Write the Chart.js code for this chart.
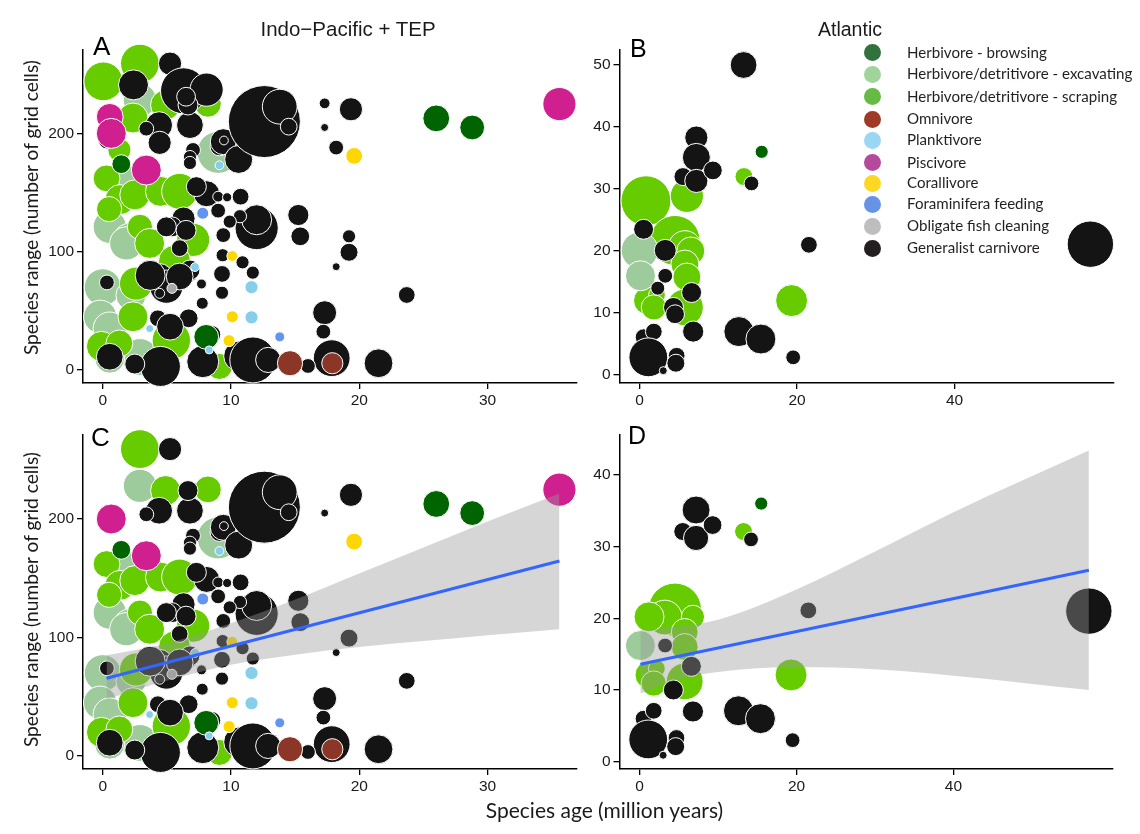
<!DOCTYPE html>
<html><head><meta charset="utf-8">
<script src="https://cdn.jsdelivr.net/npm/chart.js@4.4.1/dist/chart.umd.min.js"></script>
<style>
html,body{margin:0;padding:0;background:#fff;}
#wrap{position:relative;width:1140px;height:834px;overflow:hidden;background:#fff;}
canvas{position:absolute;left:0;top:0;}
.t{position:absolute;white-space:nowrap;color:#1a1a1a;line-height:1;}
.dot{position:absolute;width:17px;height:17px;border-radius:50%;}
</style></head><body><div id="wrap">
<canvas id="cA" width="1140" height="834"></canvas>
<canvas id="cB" width="1140" height="834"></canvas>
<canvas id="cC" width="1140" height="834"></canvas>
<canvas id="cD" width="1140" height="834"></canvas>
</div>
<script>
// ---------------- data: [species age (Myr), species range (grid cells), size] ----------------
// Panel A (Indo-Pacific + TEP)
const aExc = [[2.9,228,8.3],[9.0,184,10.5],[1.7,158,9],[0.55,121,8.3],[2.1,110,8.3],[1.84,107,8.3],[0.0,70,9.2],[2.2,63,7.5],[-0.2,45,8.3],[0.55,35,8.3],[2.9,11,9.2],[0.55,10,7.5]];
const aScr = [[0.05,244,9.7],[2.9,259,9.7],[2.36,213,7.5],[4.9,224,7.5],[8.2,225,6.7],[1.3,186,5.8],[0.3,162,6.7],[1.35,144,7.5],[2.5,148,7.5],[4.5,151,7.5],[6.0,151,9],[0.5,136,6.3],[2.9,121,6.3],[3.66,107,7.5],[7.05,110,8.3],[5.6,92,8],[2.6,73,8.3],[2.36,45,7.5],[-0.1,20,7.5],[1.3,22.5,6.7],[4.83,11,6.3],[5.35,25,9.6],[9.1,3,6.5]];
const aGen = [[2.4,241,7.5],[5.25,259,5.8],[6.3,236,11.5],[8.1,237,8.3],[0.33,194,4.2],[4.4,207,6.7],[3.4,204,3.7],[6.8,207,6.7],[6.65,224,5],[6.5,231,4.7],[4.44,192,5.8],[7.04,186,3.7],[6.8,180,3.3],[6.8,175,3.3],[10.4,182,5],[9.1,189,4.7],[9.4,193,6.5],[9.45,194,2.2],[10.6,178,7],[12.6,210,18],[13.8,222.6,8.7],[14.5,205.7,4.2],[17.3,225.4,2.7],[19.35,220.4,5.8],[17.3,205,2],[18.2,188,3.7],[8.1,149,6.5],[9.0,146.5,2.7],[9.7,146,2.3],[10.75,146.5,4.2],[9.0,134.7,3.7],[7.3,155,5],[12.0,120,10.8],[12.0,127,7.5],[10.7,130,3.3],[15.25,131,5.3],[15.4,113,4.7],[19.2,113,3.3],[19.2,99.5,4.5],[18.2,87.3,2],[23.7,63.4,4.2],[9.9,125.4,3.3],[9.4,114,3.7],[9.35,97,3.3],[10.9,91,3.3],[11.7,82.3,3.3],[9.3,81.2,4.2],[9.3,65.3,3.3],[7.76,56.4,3],[7.76,72.4,2.3],[17.3,48.4,6],[17.2,32.4,3.7],[17.85,10,9.2],[16.0,3.4,3.7],[21.5,5.7,7.2],[7.8,7,8],[10.6,11.8,7.5],[11.7,8.5,11.5],[12.9,8.5,6.3],[4.5,3,10],[6.7,43.7,4.7],[6.7,82.2,4.7],[6.3,128,5.8],[5.4,121,5],[6.0,103,4.2],[4.96,121,5],[6.5,118,5],[6.8,84.5,5],[4.44,79,6.5],[0.33,74,3.7],[4.96,70.4,8.3],[4.44,64.8,2.5],[6.0,79,6.7],[7.7,72.7,2.5],[4.3,43.7,4.2],[0.55,11.2,6.7],[3.7,80,7.5],[5.25,36.6,6.7],[8.5,30,4.5],[2.5,5,5]];
const aBrw = [[26.0,212.7,6.7],[28.8,205,6.2],[8.07,28,6.2],[1.45,174,4.7]];
const aOmn = [[14.6,5.7,6.3],[17.9,5.7,5.3]];
const aPlk = [[9.1,173,2.2],[11.6,70,3.3],[11.6,44.5,3.3],[7.2,87,2.2],[3.66,35,2],[8.3,17,2]];
const aPsc = [[0.55,214,6.7],[0.67,200,7.5],[3.4,169,7.5],[35.6,224.8,8.3]];
const aCor = [[19.6,181,4.2],[10.1,96.4,2.7],[10.1,45,3],[9.85,24.8,3]];
const aFrm = [[7.8,132.5,3],[13.8,28,2.5]];
const aCln = [[5.4,69,2.5]];

// Panel C (Indo-Pacific + TEP, with linear fit)
const cExc = [[2.9,228,8.3],[9.0,184,10.5],[1.7,158,9],[0.55,121,8.3],[2.1,110,8.3],[1.84,107,8.3],[0.0,70,9.2],[2.2,63,7.5],[-0.2,45,8.3],[0.55,35,8.3],[2.9,11,9.2],[0.55,10,7.5]];
const cScr = [[2.9,259,9.7],[4.9,224,7.5],[8.2,225,6.7],[0.3,162,6.7],[1.35,144,7.5],[2.5,148,7.5],[4.5,151,7.5],[6.0,151,9],[0.5,136,6.3],[2.9,121,6.3],[3.66,107,7.5],[7.05,110,8.3],[5.6,92,8],[2.6,73,8.3],[2.36,45,7.5],[-0.1,20,7.5],[1.3,22.5,6.7],[4.83,11,6.3],[5.35,25,9.6],[9.1,3,6.5]];
const cGen = [[5.25,259,5.8],[4.4,207,6.7],[3.4,204,3.7],[6.8,207,6.7],[6.65,224,5],[7.04,186,3.7],[6.8,180,3.3],[6.8,175,3.3],[10.4,182,5],[9.1,189,4.7],[9.4,193,6.5],[9.45,194,2.2],[10.6,178,7],[12.6,210,18],[13.8,222.6,8.7],[14.5,205.7,4.2],[17.3,205,2],[19.35,220.4,5.8],[8.1,149,6.5],[9.0,146.5,2.7],[9.7,146,2.3],[10.75,146.5,4.2],[9.0,134.7,3.7],[7.3,155,5],[12.0,120,10.8],[12.0,127,7.5],[10.7,130,3.3],[15.25,131,5.3],[15.4,113,4.7],[19.2,99.5,4.5],[18.2,87.3,2],[23.7,63.4,4.2],[9.9,125.4,3.3],[9.4,114,3.7],[9.35,97,3.3],[10.9,91,3.3],[11.7,82.3,3.3],[9.3,81.2,4.2],[9.3,65.3,3.3],[7.76,56.4,3],[7.76,72.4,2.3],[17.3,48.4,6],[17.2,32.4,3.7],[17.85,10,9.2],[16.0,3.4,3.7],[21.5,5.7,7.2],[7.8,7,8],[10.6,11.8,7.5],[11.7,8.5,11.5],[12.9,8.5,6.3],[4.5,3,10],[6.7,43.7,4.7],[6.7,82.2,4.7],[6.3,128,5.8],[5.4,121,5],[6.0,103,4.2],[4.96,121,5],[6.5,118,5],[6.8,84.5,5],[4.44,79,6.5],[0.33,74,3.7],[4.96,70.4,8.3],[4.44,64.8,2.5],[6.0,79,6.7],[7.7,72.7,2.5],[4.3,43.7,4.2],[0.55,11.2,6.7],[3.7,80,7.5],[5.25,36.6,6.7],[8.5,30,4.5],[2.5,5,5]];
const cBrw = [[26.0,212.7,6.7],[28.8,205,6.2],[8.07,28,6.2],[1.45,174,4.7]];
const cOmn = [[14.6,5.7,6.3],[17.9,5.7,5.3]];
const cPlk = [[9.1,173,2.2],[11.6,70,3.3],[11.6,44.5,3.3],[7.2,87,2.2],[3.66,35,2],[8.3,17,2]];
const cPsc = [[0.67,200,7.5],[3.4,169,7.5],[35.6,224.8,8.3]];
const cCor = [[19.6,181,4.2],[10.1,96.4,2.7],[10.1,45,3],[9.85,24.8,3]];
const cFrm = [[7.8,132.5,3],[13.8,28,2.5]];
const cCln = [[5.4,69,2.5]];
const cFitX = [0.3, 35.6];
const cFitY = [65.6, 164.6];
const cBandX  = [0.3, 5, 10, 15, 20, 25, 30, 35.6];
const cBandHi = [85, 95, 112, 132, 154, 176, 198, 221.6];
const cBandLo = [48, 63.5, 77, 85.5, 92, 97, 102, 107];

// Panel B (Atlantic)
const bExc = [[0,20.1,9.2],[0.1,16,7.5]];
const bScr = [[0.8,28.1,12.5],[6.0,28.9,8.3],[4.5,21.7,12.5],[5.75,20.6,8.3],[6.5,20,7],[5.75,17.9,7],[6.0,15.8,7],[1.0,12,7],[2.2,12.9,4.2],[1.8,10.9,6.3],[5.75,10.9,9.2],[19.3,12,8],[13.25,32,4.5]];
const bGen = [[7.2,38.3,5.8],[7.2,35.1,7],[5.5,32,4.5],[7.2,31.3,5.8],[9.3,33,4.7],[14.2,30.9,3.7],[0.5,23.5,5],[3.25,20.1,5.5],[3.25,16,3.7],[2.3,14,3.5],[6.6,13.3,5],[4.3,10.9,5],[4.5,9.8,4.7],[0.5,6.1,4.2],[1.8,7.0,4.2],[6.8,7.0,5.3],[12.6,7.0,7.5],[15.4,5.8,7.5],[19.5,2.85,3.7],[1.1,2.85,9.7],[4.7,3.1,4.2],[4.6,1.9,4.5],[3.0,0.7,2],[13.2,50,6.7],[21.5,21,4.2],[57.25,21.1,11.6]];
const bBrw = [[15.5,36,3.3]];

// Panel D (Atlantic, with linear fit)
const dExc = [[0.1,16.2,7.5]];
const dScr = [[4.5,21.2,13.3],[3.2,20.1,8.7],[1.2,20.2,7.5],[6.8,20.2,5.8],[5.75,18.1,6.7],[5.75,16,6.7],[1.2,12.1,7],[2.2,13,4.2],[1.8,10.9,6.3],[5.75,11.2,9.2],[19.3,12.1,8],[13.25,32.1,4.5]];
const dGen = [[7.2,35.1,7],[5.5,32.1,4.5],[7.2,31.2,6.3],[9.3,33,4.7],[14.2,31,3.7],[3.25,16.2,3.7],[6.6,13.3,5],[4.3,10,5],[0.5,6.0,4.2],[1.8,7.1,4.2],[6.8,7.0,5.3],[12.6,7.1,7.5],[15.4,6.0,7.5],[19.5,3.0,3.7],[1.1,3.1,9.7],[4.7,3.3,4.2],[4.6,2.1,4.5],[3.0,0.9,2],[21.5,21.1,4.2],[57.25,21.0,11.6]];
const dBrw = [[15.5,36,3.3]];
const dFitX = [0.1, 57.25];
const dFitY = [13.6, 26.7];
const dBandX  = [0.1, 5, 10, 20, 30, 40, 57.25];
const dBandHi = [18.3, 18.9, 19.8, 24.0, 29.3, 34.8, 43.4];
const dBandLo = [9.5, 11.5, 12.5, 13.2, 12.9, 12.0, 10];

// tick labels
const ipXTicks = [0, 10, 20, 30];
const ipYTicks = [0, 100, 200];
const atXTicks = [0, 20, 40];
const atBYTicks = [0, 10, 20, 30, 40, 50];
const atDYTicks = [0, 10, 20, 30, 40];

// legend
const legendKeys = ['brw','exc','scr','omn','plk','psc','cor','frm','cln','gen'];
const legendLabels = ['Herbivore - browsing','Herbivore/detritivore - excavating','Herbivore/detritivore - scraping','Omnivore','Planktivore','Piscivore','Corallivore','Foraminifera feeding','Obligate fish cleaning','Generalist carnivore'];
const panelTitles = ['Indo\u2212Pacific + TEP', 'Atlantic'];
const panelLetters = ['A','B','C','D'];
const yTitle = 'Species range (number of grid cells)';
const xTitle = 'Species age (million years)';

// ---------------- styles ----------------
const PLOT_COL = {brw:'#006400', exc:'#9DCB9B', scr:'#66CC00', omn:'#8B3627', plk:'#87CEEB', psc:'#D0208F', cor:'#FFD700', frm:'#6495ED', cln:'#A9A9A9', gen:'#141414'};
const LEG_COL = {brw:'#31713b', exc:'#a1d49b', scr:'#66bb44', omn:'#9e3a26', plk:'#9ad7f4', psc:'#b54a9c', cor:'#fdd723', frm:'#6594e6', cln:'#bebebe', gen:'#231f20'};
const SIZE_PX = 2;
const STACK = ['exc','scr','gen','brw','omn','plk','psc','cor','frm','cln'];
const STACK_ATL = ['scr','exc','gen','brw','omn','plk','psc','cor','frm','cln'];
const TICK_FONT = {family:'"Liberation Sans", Arial, sans-serif', size:15.5};

function makePanel(canvasId, groups, stack, xr, yr, xTicks, yTicks, area, fit) {
  const ds = [];
  if (fit) {
    ds.push({type:'line', data: fit.x.map((x,i)=>({x, y: fit.y[i]})), borderColor:'#3366FF', borderWidth:3, pointRadius:0, fill:false, order:0});
    ds.push({type:'line', data: fit.bx.map((x,i)=>({x, y: fit.hi[i]})), borderColor:'rgba(0,0,0,0)', borderWidth:0, pointRadius:0, cubicInterpolationMode:'monotone', fill:'+1', backgroundColor:'rgba(153,153,153,0.4)', order:1});
    ds.push({type:'line', data: fit.bx.map((x,i)=>({x, y: fit.lo[i]})), borderColor:'rgba(0,0,0,0)', borderWidth:0, pointRadius:0, cubicInterpolationMode:'monotone', fill:false, order:2});
  }
  stack.forEach((g, i) => {
    const arr = groups[g];
    if (!arr || !arr.length) return;
    ds.push({type:'bubble', data: arr.map(p => ({x:p[0], y:p[1], r:p[2]*SIZE_PX})),
      backgroundColor: PLOT_COL[g], borderColor:'#ffffff', borderWidth:1, hoverBorderWidth:1, clip:false, order:100 - i});
  });
  const W = 50, H = 40;
  const axisCommon = {
    type:'linear',
    border:{display:true, color:'#000', width:1.5},
    grid:{display:true, drawOnChartArea:false, drawTicks:true, tickLength:6, color:'#000', tickColor:'#000', lineWidth:1.3, tickWidth:1.3},
  };
  new Chart(document.getElementById(canvasId), {
    type:'bubble',
    data:{datasets: ds},
    options:{
      responsive:false, animation:false, devicePixelRatio:1,
      events:[],
      layout:{padding:{left: area.l - W, right: 1140 - area.r, top: area.t, bottom: 834 - area.b - H}},
      plugins:{legend:{display:false}, tooltip:{enabled:false}},
      scales:{
        x: Object.assign({}, axisCommon, {min:xr[0], max:xr[1],
          afterBuildTicks: s => { s.ticks = xTicks.map(v => ({value:v})); },
          afterFit: s => { s.height = H; },
          ticks:{padding:2, font:TICK_FONT, color:'#1a1a1a', maxRotation:0, autoSkip:false}}),
        y: Object.assign({}, axisCommon, {min:yr[0], max:yr[1],
          afterBuildTicks: s => { s.ticks = yTicks.map(v => ({value:v})); },
          afterFit: s => { s.width = W; },
          ticks:{padding:3, font:TICK_FONT, color:'#1a1a1a', autoSkip:false}})
      }
    }
  });
}

const gA = {exc:aExc, scr:aScr, gen:aGen, brw:aBrw, omn:aOmn, plk:aPlk, psc:aPsc, cor:aCor, frm:aFrm, cln:aCln};
const gC = {exc:cExc, scr:cScr, gen:cGen, brw:cBrw, omn:cOmn, plk:cPlk, psc:cPsc, cor:cCor, frm:cFrm, cln:cCln};
const gB = {exc:bExc, scr:bScr, gen:bGen, brw:bBrw};
const gD = {exc:dExc, scr:dScr, gen:dGen, brw:dBrw};

makePanel('cA', gA, STACK, [-1.535, 36.97], [-11.0, 270.5], ipXTicks, ipYTicks, {l:83, r:577, t:50, b:383}, null);
makePanel('cB', gB, STACK_ATL, [-2.56, 60.25], [-1.29, 52.42], atXTicks, atBYTicks, {l:619.5, r:1122, t:50, b:383}, null);
makePanel('cC', gC, STACK, [-1.535, 36.97], [-10.97, 270.9], ipXTicks, ipYTicks, {l:83, r:577, t:435, b:769},
  {x:cFitX, y:cFitY, bx:cBandX, hi:cBandHi, lo:cBandLo});
makePanel('cD', gD, STACK_ATL, [-2.56, 60.25], [-1.02, 45.56], atXTicks, atDYTicks, {l:619.5, r:1122, t:435, b:769},
  {x:dFitX, y:dFitY, bx:dBandX, hi:dBandHi, lo:dBandLo});

// ---------------- HTML text ----------------
const wrap = document.getElementById('wrap');
const ASC = {ls:0.846, lato:0.887};
const FAM = {ls:'"Liberation Sans", Arial, sans-serif', lato:'Lato, "Open Sans", sans-serif'};
function addText(txt, x, baseline, size, fam, anchor, color) {
  const d = document.createElement('div');
  d.className = 't';
  d.textContent = txt;
  d.style.fontFamily = FAM[fam];
  d.style.fontSize = size + 'px';
  d.style.top = (baseline - ASC[fam]*size) + 'px';
  if (color) d.style.color = color;
  if (anchor === 'center') { d.style.left = x + 'px'; d.style.transform = 'translateX(-50%)'; }
  else d.style.left = x + 'px';
  wrap.appendChild(d);
  return d;
}
function addVText(txt, cx, cy, size, fam) {
  const d = document.createElement('div');
  d.className = 't';
  d.textContent = txt;
  d.style.fontFamily = FAM[fam];
  d.style.fontSize = size + 'px';
  d.style.width = '400px';
  d.style.textAlign = 'center';
  d.style.left = (cx - 200) + 'px';
  d.style.top = (cy - size/2) + 'px';
  d.style.transformOrigin = '200px ' + (size/2) + 'px';
  d.style.transform = 'rotate(-90deg)';
  wrap.appendChild(d);
}
addText(panelTitles[0], 348, 36, 20.5, 'ls', 'center');
addText(panelTitles[1], 850, 36, 19.5, 'ls', 'center');
addText(panelLetters[0], 93, 55, 26, 'ls', 'left', '#000');
addText(panelLetters[1], 630, 57, 25, 'ls', 'left', '#000');
addText(panelLetters[2], 91, 446, 26, 'ls', 'left', '#000');
addText(panelLetters[3], 628, 444, 25, 'ls', 'left', '#000');
addVText(yTitle, 31, 208, 19.2, 'lato');
addVText(yTitle, 31, 600, 19.2, 'lato');
addText(xTitle, 604.5, 818, 21, 'lato', 'center');

const legRowsY = [52.7, 74.3, 96.7, 119.3, 140, 162.7, 183.3, 204, 226, 248.3];
legendKeys.forEach((k, i) => {
  const dot = document.createElement('div');
  dot.className = 'dot';
  dot.style.background = LEG_COL[k];
  dot.style.left = (872 - 8.5) + 'px';
  dot.style.top = (legRowsY[i] - 8.5) + 'px';
  wrap.appendChild(dot);
  addText(legendLabels[i], 907, legRowsY[i] + 5.4, 15.1, 'lato', 'left', '#231f20');
});
</script>
</body></html>
